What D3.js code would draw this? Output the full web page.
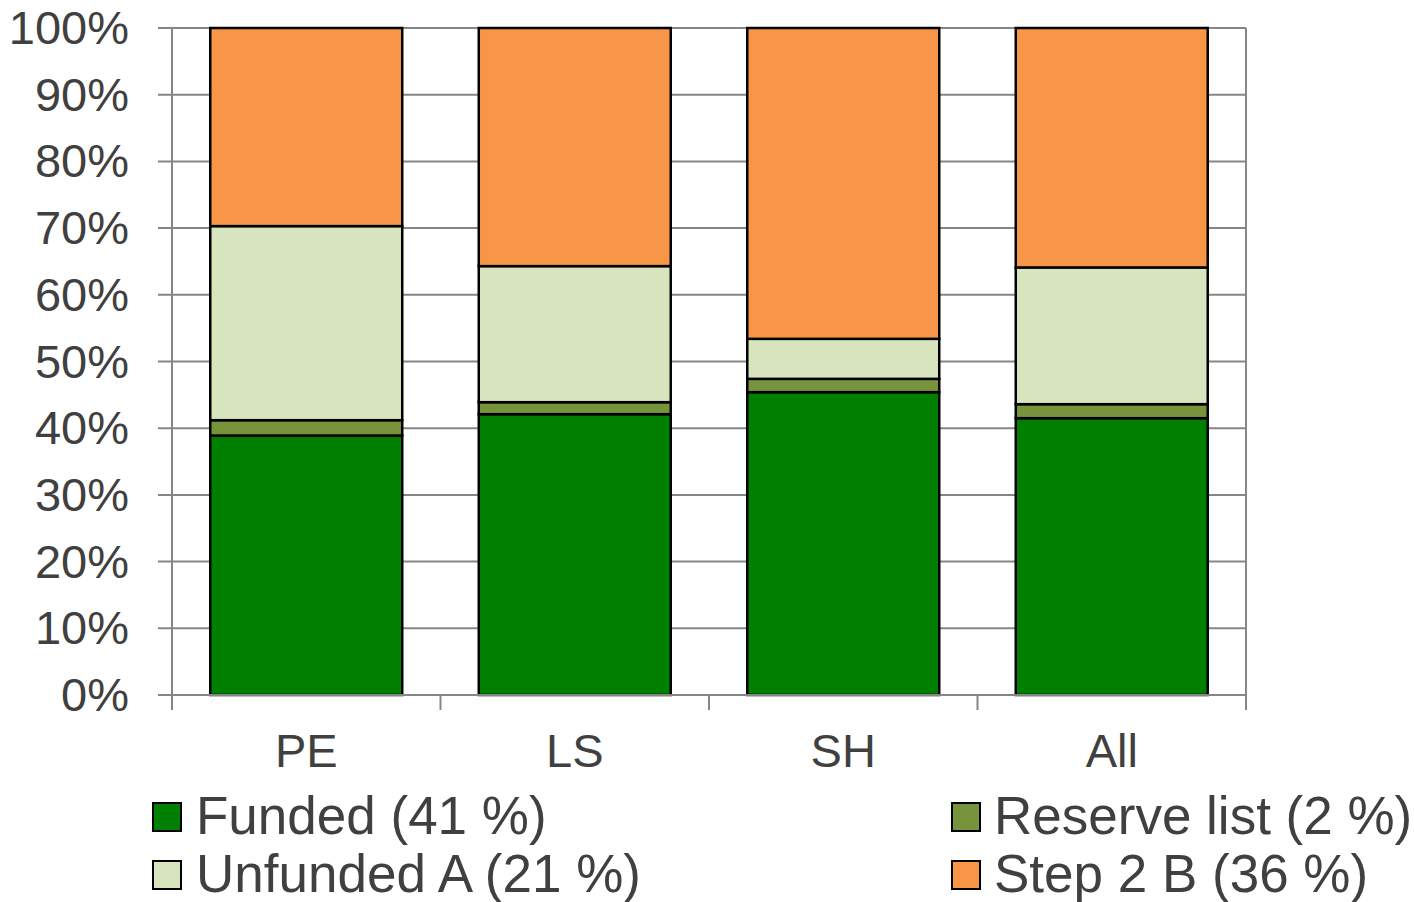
<!DOCTYPE html>
<html>
<head>
<meta charset="utf-8">
<script src="https://cdn.jsdelivr.net/npm/d3@7"></script>
<style>
  html, body { margin: 0; padding: 0; background: #fff; }
  svg { display: block; font-family: "Liberation Sans", Arial, sans-serif; }
</style>
</head>
<body>
<svg id="chart" width="1414" height="902"></svg>
<script>
// Programme groups shown on the x axis
const categories = ["PE", "LS", "SH", "All"];

// Share of proposals (%) per outcome, one value per category
const funded    = [38.9, 42.1, 45.4, 41.5];
const reserve   = [2.3, 1.8, 2.0, 2.1];
const unfundedA = [29.1, 20.4, 6.0, 20.5];
const step2B    = [29.7, 35.7, 46.6, 35.9];

// Series in stacking order with their legend labels
const seriesNames  = ["Funded", "Reserve list", "Unfunded A", "Step 2 B"];
const legendLabels = ["Funded (41 %)", "Reserve list (2 %)", "Unfunded A (21 %)", "Step 2 B (36 %)"];
const yTicks = [0, 10, 20, 30, 40, 50, 60, 70, 80, 90, 100];

const colors = {
  "Funded": "#008000",
  "Reserve list": "#77933c",
  "Unfunded A": "#d7e4bd",
  "Step 2 B": "#f79646"
};

const seriesValues = [funded, reserve, unfundedA, step2B];
const rows = categories.map((c, i) => {
  const r = { cat: c };
  seriesNames.forEach((s, k) => { r[s] = seriesValues[k][i]; });
  return r;
});

const svg = d3.select("#chart");
const plot = { left: 172, right: 1246, top: 28, bottom: 695 };
const textColor = "#404040";
const gridColor = "#868686";

const x = d3.scaleBand()
  .domain(categories)
  .range([plot.left, plot.right])
  .paddingInner(0.285)
  .paddingOuter(0.1425);

const y = d3.scaleLinear().domain([0, 100]).range([plot.bottom, plot.top]);

// Horizontal gridlines with short outer ticks on the left
svg.append("g")
  .selectAll("line")
  .data(yTicks)
  .join("line")
  .attr("x1", plot.left - 14)
  .attr("x2", plot.right)
  .attr("y1", d => y(d))
  .attr("y2", d => y(d))
  .attr("stroke", gridColor)
  .attr("stroke-width", 2);

// Y axis labels
svg.append("g")
  .selectAll("text")
  .data(yTicks)
  .join("text")
  .attr("x", 129)
  .attr("y", d => y(d) + 16)
  .attr("text-anchor", "end")
  .attr("font-size", 47)
  .attr("fill", textColor)
  .text(d => d + "%");

// Left and right frame lines
[plot.left, plot.right].forEach(px => {
  svg.append("line")
    .attr("x1", px).attr("x2", px)
    .attr("y1", plot.top).attr("y2", plot.bottom + 15)
    .attr("stroke", gridColor).attr("stroke-width", 2);
});

// Category separators below the baseline
const step = x.step();
const sepX = d3.range(1, categories.length).map(i => plot.left + i * step);
svg.append("g")
  .selectAll("line")
  .data(sepX)
  .join("line")
  .attr("x1", d => d).attr("x2", d => d)
  .attr("y1", plot.bottom).attr("y2", plot.bottom + 15)
  .attr("stroke", gridColor).attr("stroke-width", 2);

// Stacked bars
const stacked = d3.stack().keys(seriesNames)(rows);
svg.append("g")
  .selectAll("g")
  .data(stacked)
  .join("g")
  .attr("fill", d => colors[d.key])
  .selectAll("rect")
  .data(d => d)
  .join("rect")
  .attr("x", d => x(d.data.cat))
  .attr("width", x.bandwidth())
  .attr("y", d => y(d[1]))
  .attr("height", d => y(d[0]) - y(d[1]))
  .attr("stroke", "#000")
  .attr("stroke-width", 2.5);

// Baseline drawn over bar bottoms
svg.append("line")
  .attr("x1", plot.left - 14).attr("x2", plot.right)
  .attr("y1", plot.bottom).attr("y2", plot.bottom)
  .attr("stroke", gridColor).attr("stroke-width", 2);

// Category labels
svg.append("g")
  .selectAll("text")
  .data(categories)
  .join("text")
  .attr("x", d => x(d) + x.bandwidth() / 2)
  .attr("y", 767)
  .attr("text-anchor", "middle")
  .attr("font-size", 47)
  .attr("fill", textColor)
  .text(d => d);

// Legend, two columns by two rows
const legendPos = [
  { sx: 153, tx: 196, y: 834 },
  { sx: 952, tx: 994, y: 834 },
  { sx: 153, tx: 196, y: 892 },
  { sx: 952, tx: 994, y: 892 }
];
const legend = svg.append("g")
  .selectAll("g")
  .data(seriesNames)
  .join("g");
legend.append("rect")
  .attr("x", (d, i) => legendPos[i].sx)
  .attr("y", (d, i) => legendPos[i].y - 31)
  .attr("width", 28)
  .attr("height", 28)
  .attr("fill", d => colors[d])
  .attr("stroke", "#000")
  .attr("stroke-width", 2);
legend.append("text")
  .attr("x", (d, i) => legendPos[i].tx)
  .attr("y", (d, i) => legendPos[i].y)
  .attr("font-size", 53)
  .attr("fill", textColor)
  .text((d, i) => legendLabels[i]);
</script>
</body>
</html>
